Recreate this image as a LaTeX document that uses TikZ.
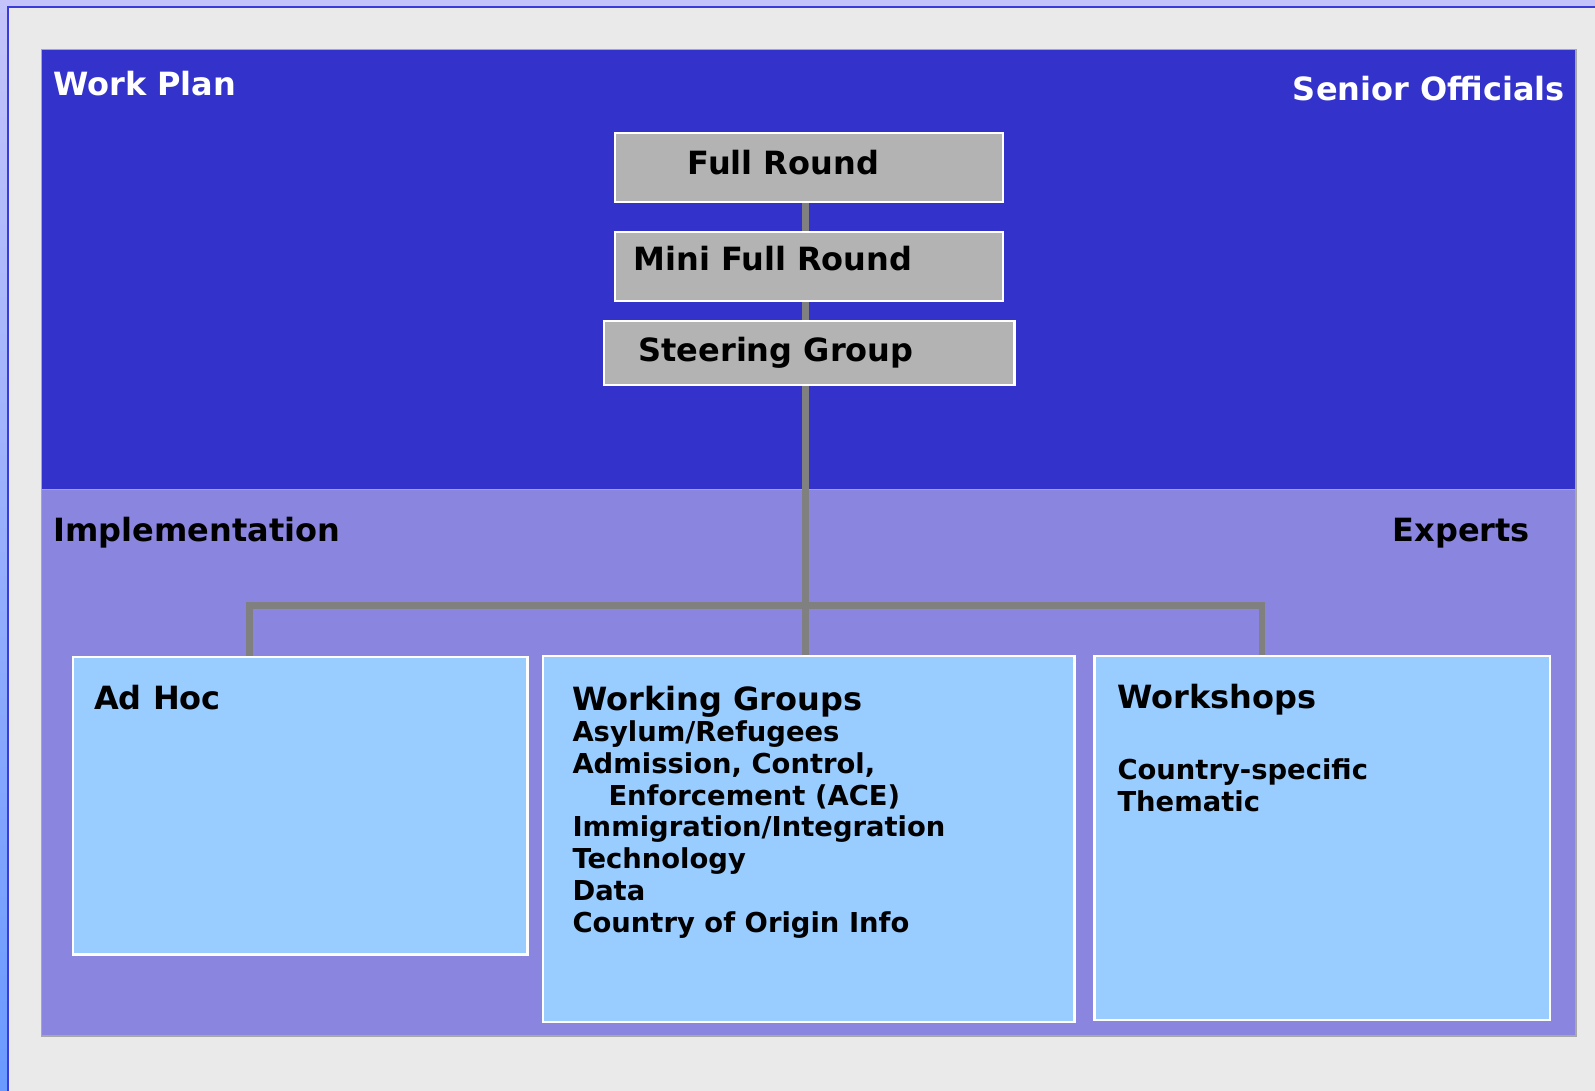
\documentclass[tikz,border=0pt]{standalone}
\usepackage{fontspec}
\setmainfont{DejaVu Sans}
\definecolor{bgray}{HTML}{EAEAEA}
\definecolor{lav}{HTML}{C4C4FA}
\definecolor{lblue}{HTML}{6A9AFF}
\definecolor{frameblue}{HTML}{3B3BD9}
\definecolor{panelblue}{HTML}{3333CC}
\definecolor{panelpurple}{HTML}{8A86DF}
\definecolor{panelborder}{HTML}{A8A8A8}
\definecolor{boxgray}{HTML}{B3B3B3}
\definecolor{boxblue}{HTML}{99CCFF}
\definecolor{conngray}{HTML}{808080}
\tikzset{
  graybox/.style={draw=white, line width=1.5pt, fill=boxgray, inner sep=0pt},
  bluebox/.style={draw=white, line width=1.5pt, fill=boxblue, inner sep=0pt},
  conn/.style={draw=conngray, line width=6.7pt, line join=miter},
  big/.style={font=\fontsize{32}{38}\selectfont\bfseries, anchor=base west, inner sep=0pt},
  small/.style={font=\fontsize{27.4}{32}\selectfont\bfseries, anchor=base west, inner sep=0pt},
}
\begin{document}
\begin{tikzpicture}[x=1pt,y=-1pt]
\useasboundingbox (0,0) rectangle (1595,1091);
% outer frame
\fill[bgray] (0,0) rectangle (1595,1091);
\fill[lav] (0,0) rectangle (1595,6.5);
\shade[top color=lav, bottom color=lblue] (0,0) rectangle (7.3,1091);
\draw[frameblue, line width=2pt] (8.3,1091) -- (8.3,7.3) -- (1595,7.3);
% panels
\fill[panelblue] (41.5,49.5) rectangle (1576,489);
\fill[panelpurple] (41.5,489) rectangle (1576,1036);
\draw[panelborder, line width=1pt] (41.5,489) -- (1576,489);
\draw[panelborder, line width=1.5pt] (41.5,49.5) rectangle (1576,1036);
% coordinates for connectors
\coordinate (trunk) at (805.7,605.3);
\coordinate (jl) at (249.3,605.3);
\coordinate (jr) at (1262,605.3);
% boxes
\node[graybox, minimum width=387pt, minimum height=68pt] (fr) at (809.2,167.3) {};
\node[graybox, minimum width=387pt, minimum height=68.5pt] (mfr) at (809.2,266.3) {};
\node[graybox, minimum width=409.7pt, minimum height=63pt] (sg) at (809.2,352.8) {};
\node[bluebox, minimum width=454pt, minimum height=297pt] (ah) at (300,805.5) {};
\node[bluebox, minimum width=530.7pt, minimum height=365.5pt] (wg) at (808.7,839.2) {};
\node[bluebox, minimum width=454.5pt, minimum height=363.5pt] (ws) at (1322.2,838.2) {};
% connectors
\draw[conn] (fr.south -| trunk) -- (mfr.north -| trunk);
\draw[conn] (mfr.south -| trunk) -- (sg.north -| trunk);
\draw[conn] (sg.south -| trunk) -- (wg.north -| trunk);
\draw[conn] (ah.north -| jl) -- (jl) -- (jr) -- (ws.north -| jr);
% redraw box borders over connector ends
\draw[white, line width=1.5pt] (fr.south west) rectangle (fr.north east);
\draw[white, line width=1.5pt] (mfr.south west) rectangle (mfr.north east);
\draw[white, line width=1.5pt] (sg.south west) rectangle (sg.north east);
\draw[white, line width=1.5pt] (ah.south west) rectangle (ah.north east);
\draw[white, line width=1.5pt] (wg.south west) rectangle (wg.north east);
\draw[white, line width=1.5pt] (ws.south west) rectangle (ws.north east);
% panel labels
\node[big, text=white] (workplan) at (53,96) {Work Plan};
\node[big, text=white, anchor=base east] (senior) at (1565,100.7) {Senior Officials};
\node[big] (impl) at (53.3,541.7) {Implementation};
\node[big] (experts) at (1392.5,541.7) {Experts};
% box labels
\node[big] (frt) at (687.6,175) {Full Round};
\node[big] (mfrt) at (633.3,270.7) {Mini Full Round};
\node[big] (sgt) at (638.3,361) {Steering Group};
\node[big] (aht) at (94,709) {Ad Hoc};
\node[big] (wgt) at (572.3,710) {Working Groups};
\node[big] (wst) at (1117.3,708.3) {Workshops};
% working group items
\node[small] (wg1) at (572.3,741.7) {Asylum/Refugees};
\node[small] (wg2) at (572.3,773.3) {Admission, Control,};
\node[small] (wg3) at (608.3,805) {Enforcement (ACE)};
\node[small] (wg4) at (572.3,836.7) {Immigration/Integration};
\node[small] (wg5) at (572.3,868.3) {Technology};
\node[small] (wg6) at (572.3,900) {Data};
\node[small] (wg7) at (572.3,932.7) {Country of Origin Info};
% workshop items
\node[small] (ws1) at (1117.3,779.3) {Country-specific};
\node[small] (ws2) at (1117.3,811) {Thematic};
\end{tikzpicture}
\end{document}
